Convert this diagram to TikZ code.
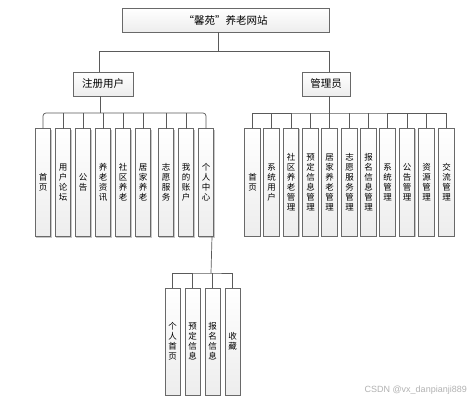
\documentclass[tikz,border=0pt]{standalone}
\usepackage{fontspec}
\setmainfont{Noto Sans CJK SC}
\newfontfamily\wmfont{Liberation Sans}
\usetikzlibrary{shadows}
\definecolor{boxline}{RGB}{105,105,105}
\definecolor{conline}{RGB}{90,90,90}
\tikzset{
  x=1pt,y=-1pt,
  basebox/.style={draw=boxline, line width=0.8pt, top color=white, bottom color=gray!14,
    drop shadow={shadow xshift=1pt,shadow yshift=-1pt,fill=gray!55,opacity=0.8},
    inner sep=0pt, outer sep=0pt},
  hbox/.style={basebox, minimum height=24pt, font=\fontsize{10.5}{12}\selectfont},
  vbox/.style={basebox, minimum width=15.5pt, minimum height=108pt, align=center,
    font=\fontsize{8.5}{10}\selectfont},
  sbox/.style={basebox, minimum width=15pt, minimum height=107pt, align=center,
    font=\fontsize{8.5}{10}\selectfont},
  con/.style={draw=conline, line width=0.7pt},
}
\begin{document}
\begin{tikzpicture}
\useasboundingbox (0,0) rectangle (471,402);
\fill[white] (0,0) rectangle (471,402);

% top
\node[hbox, minimum width=207pt] (top) at (225.5,20) {“馨苑”养老网站};
\node[hbox, minimum width=60pt] (reg) at (103,84) {注册用户};
\node[hbox, minimum width=48pt] (adm) at (326,84) {管理员};

\coordinate (tb) at (218,51);
\draw[con] ([xshift=-7.5pt]top.south) -- (tb);
\draw[con] (tb) -| ([xshift=-4pt]reg.north);
\draw[con] (tb) -| ([xshift=3pt]adm.north);

% left children
\foreach \n/\x/\t in {l1/43/首\\页, l2/63/用\\户\\论\\坛, l3/83/公\\告, l4/103/养\\老\\资\\讯,
  l5/123/社\\区\\养\\老, l6/143/居\\家\\养\\老, l7/166/志\\愿\\服\\务, l8/186/我\\的\\账\\户,
  l9/206/个\\人\\中\\心}{
  \node[vbox] (\n) at (\x,182.5) {\t};
}
\coordinate (lb) at (100,113);
\draw[con] ([xshift=-3pt]reg.south) -- (lb);
\draw[con, rounded corners=3pt] (l1.north) |- (lb) -| (l9.north);
\foreach \n in {l2,l3,l4,l5,l6,l7,l8}{
  \draw[con] (\n.north) -- (\n.north |- lb);
}

% right children
\foreach \n/\x/\t in {r1/252.5/首\\页, r2/271.5/系\\统\\用\\户, r3/291/社\\区\\养\\老\\管\\理,
  r4/310.5/预\\定\\信\\息\\管\\理, r5/329.5/居\\家\\养\\老\\管\\理, r6/349.5/志\\愿\\服\\务\\管\\理,
  r7/368.5/报\\名\\信\\息\\管\\理, r8/387.5/系\\统\\管\\理, r9/407/公\\告\\管\\理,
  r10/426.5/资\\源\\管\\理, r11/446.5/交\\流\\管\\理}{
  \node[vbox] (\n) at (\x,182) {\t};
}
\coordinate (rb) at (329,113);
\draw[con] ([xshift=3pt]adm.south) -- (rb);
\draw[con] (r1.north) |- (rb) -| (r11.north);
\foreach \n in {r2,r3,r4,r5,r6,r7,r8,r9,r10}{
  \draw[con] (\n.north) -- (\n.north |- rb);
}

% sub children
\foreach \n/\x/\t in {s1/172.5/个\\人\\首\\页, s2/192.5/预\\定\\信\\息, s3/212.5/报\\名\\信\\息, s4/232.5/收\\藏}{
  \node[sbox] (\n) at (\x,341.5) {\t};
}
\coordinate (sb) at (211,273);
\draw[con] ([xshift=6pt]l9.south) -- (sb);
\draw[con] (s1.north) |- (sb) -| (s4.north);
\foreach \n in {s2,s3}{
  \draw[con] (\n.north) -- (\n.north |- sb);
}

% watermark
\node[font=\wmfont\fontsize{9}{10}\selectfont, text=gray!60, anchor=east, inner sep=0pt] (wm) at (467,390) {CSDN @vx\_danpianji889};
\end{tikzpicture}
\end{document}
